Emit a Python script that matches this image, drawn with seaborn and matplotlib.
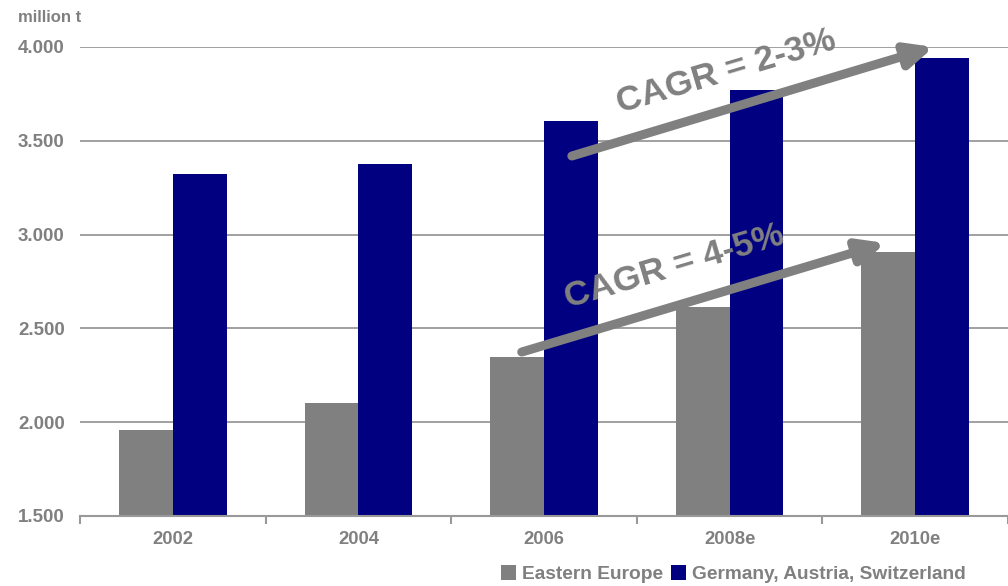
import pandas as pd
import matplotlib.pyplot as plt
import seaborn as sns
import numpy as np

years = ['2002', '2004', '2006', '2008e', '2010e']
eastern_europe = [1960, 2100, 2348, 2614, 2907]
dach = [3322, 3376, 3605, 3771, 3941]
series_names = ['Eastern Europe', 'Germany, Austria, Switzerland']
y_ticks = [1500, 2000, 2500, 3000, 3500, 4000]

df = pd.DataFrame({
    'year': years * 2,
    'value': eastern_europe + dach,
    'series': [series_names[0]] * 5 + [series_names[1]] * 5,
})

sns.set_theme(style='white')
plt.rcParams['font.family'] = ['Liberation Sans', 'DejaVu Sans']
plt.rcParams['font.weight'] = 'bold'
text_gray = '#808080'

fig = plt.figure(figsize=(10.08, 5.86), dpi=100)
ax = fig.add_axes([80 / 1008, 1 - 516 / 586, 928 / 1008, (516 - 47) / 586])

sns.barplot(data=df, x='year', y='value', hue='series', order=years,
            hue_order=series_names, palette=['#808080', '#000080'],
            width=0.58, gap=0, saturation=1, linewidth=0, ax=ax, legend=True)

ax.set_ylim(1500, 4000)
ax.set_xlim(-0.5, 4.5)
ax.set_yticks(y_ticks)
ax.set_yticklabels([f'{v // 1000}.{v % 1000:03d}' for v in y_ticks])
for v in y_ticks[1:]:
    ax.axhline(v, color='#999999', lw=1.3, zorder=0)

ax.set_xlabel('')
ax.set_ylabel('')
for s in ['left', 'right', 'top']:
    ax.spines[s].set_visible(False)
ax.spines['bottom'].set_color('#999999')
ax.spines['bottom'].set_linewidth(1.5)

ax.tick_params(axis='x', which='major', length=0, pad=11, labelsize=13.3, labelcolor=text_gray)
ax.set_xticks(np.arange(-0.5, 5, 1), minor=True)
ax.tick_params(axis='x', which='minor', bottom=True, length=6, width=1.5,
               color='#999999', direction='out')
ax.tick_params(axis='y', length=0, pad=11, labelsize=13.5, labelcolor=text_gray)
for lbl in ax.get_xticklabels() + ax.get_yticklabels():
    lbl.set_fontweight('bold')

fig.text(18 / 1008, 1 - 18 / 586, 'million t', color=text_gray, fontsize=12,
         fontweight='bold', va='center', ha='left')

# CAGR arrows
arrow_kw = dict(arrowstyle='-|>,head_length=1.3,head_width=0.6', color='#808080',
                lw=6.5, shrinkA=0, shrinkB=0)
ax.annotate('', xy=(4.1, 4000), xytext=(2.15, 3419), arrowprops=arrow_kw, annotation_clip=False)
ax.annotate('', xy=(3.84, 2955), xytext=(1.88, 2374), arrowprops=arrow_kw, annotation_clip=False)
ax.text(2.98, 3870, 'CAGR = 2-3%', rotation=16.5, rotation_mode='anchor', color='#808080',
        fontsize=25.5, fontweight='bold', ha='center', va='center')
ax.text(2.70, 2830, 'CAGR = 4-5%', rotation=16.5, rotation_mode='anchor', color='#808080',
        fontsize=25.5, fontweight='bold', ha='center', va='center')

leg = ax.legend(loc='center', bbox_to_anchor=(733 / 1008, 1 - 574 / 586),
                bbox_transform=fig.transFigure, ncol=2, frameon=False,
                handlelength=0.8, handleheight=0.8, handletextpad=0.3,
                columnspacing=0.4, borderaxespad=0,
                prop={'size': 13.8, 'weight': 'bold'})
for t in leg.get_texts():
    t.set_color(text_gray)

fig.savefig('out.png', dpi=100)
